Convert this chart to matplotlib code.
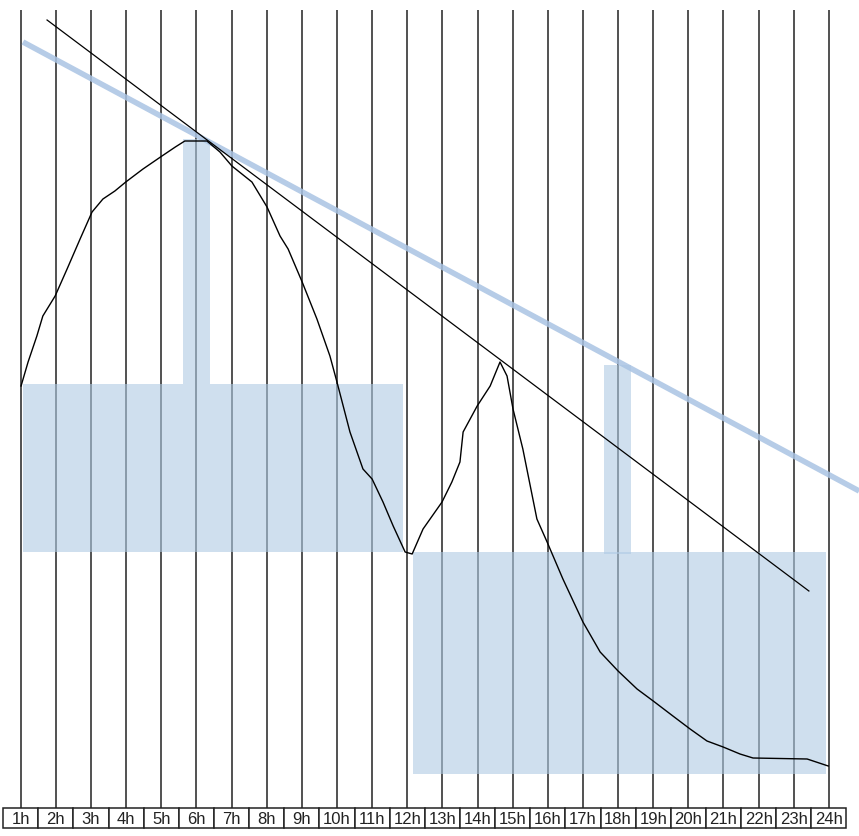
import matplotlib
matplotlib.use('Agg')
import matplotlib.pyplot as plt
from matplotlib.patches import Rectangle

# hours shown along the bottom
hours = list(range(1, 25))
hour_labels = [f"{h}h" for h in hours]

# wiggly curve (hour, level)
curve_h = [1.01, 1.21, 1.46, 1.63, 1.98, 2.32, 2.69, 3.03, 3.34, 3.68, 3.99, 4.48, 5.02,
           5.40, 5.67, 6.30, 6.67, 7.01, 7.58, 8.01, 8.38, 8.61, 9.01, 9.43, 9.80, 10.00,
           10.37, 10.74, 11.00, 11.31, 11.60, 11.94, 12.14, 12.45, 12.99, 13.27, 13.50,
           13.59, 13.99, 14.36, 14.64, 14.84, 15.01, 15.29, 15.69, 15.98, 16.43, 17.00,
           17.49, 18.00, 18.54, 19.00, 19.56, 20.05, 20.53, 20.99, 21.47, 21.84, 23.38, 23.98]
curve_v = [450, 474, 500, 520, 540, 567, 597, 624, 637, 645, 654, 667, 680,
           689, 695, 695, 684, 670, 654, 629, 600, 587, 554, 517, 480, 454,
           404, 367, 357, 334, 310, 284, 282, 307, 334, 354, 374,
           404, 430, 450, 474, 460, 427, 387, 317, 294, 257, 214,
           184, 165, 147, 135, 120, 107, 95, 89, 82, 78, 77, 70]

# shaded blocks: (start hour, end hour, low level, high level)
blocks = [
    (1.065, 11.88, 284, 452),
    (5.62, 6.39, 452, 697),
    (12.17, 23.92, 62, 284),
    (17.60, 18.37, 282, 471),
]

# trend lines: endpoints (hour, level)
blue_line = ([1.065, 24.86], [794, 345])
black_line = ([1.75, 23.43], [816, 245])

grid_top, grid_bottom = 826, 28
box_top, box_bottom = 28, 8

fig = plt.figure(figsize=(8.59, 8.37), dpi=100)
ax = fig.add_axes([0, 0, 1, 1])
ax.set_xlim(0.411, 24.856)
ax.set_ylim(0, 837)
ax.axis('off')

# vertical hour lines
ax.vlines(hours, grid_bottom, grid_top, color='#222222', lw=1.1, zorder=1)

# blocks
for x0, x1, y0, y1 in blocks:
    ax.add_patch(Rectangle((x0, y0), x1 - x0, y1 - y0, facecolor='#afcae4',
                           edgecolor='none', alpha=0.6, zorder=2))

ax.plot(*blue_line, color='#a9c3e3', lw=4, alpha=0.85, solid_capstyle='butt', zorder=3)
ax.plot(*black_line, color='black', lw=0.9, zorder=4)
ax.plot(curve_h, curve_v, color='black', lw=1.0, zorder=5)

# label boxes
for h, lab in zip(hours, hour_labels):
    ax.add_patch(Rectangle((h - 0.5, box_bottom), 1, box_top - box_bottom,
                           facecolor='white', edgecolor='#222222', lw=1.1, zorder=6))
    ax.text(h, (box_top + box_bottom) / 2 - 0.5, lab, ha='center', va='center',
            fontsize=12, family='Liberation Sans', color='#222222', zorder=7)

fig.savefig('out.png', dpi=100)
